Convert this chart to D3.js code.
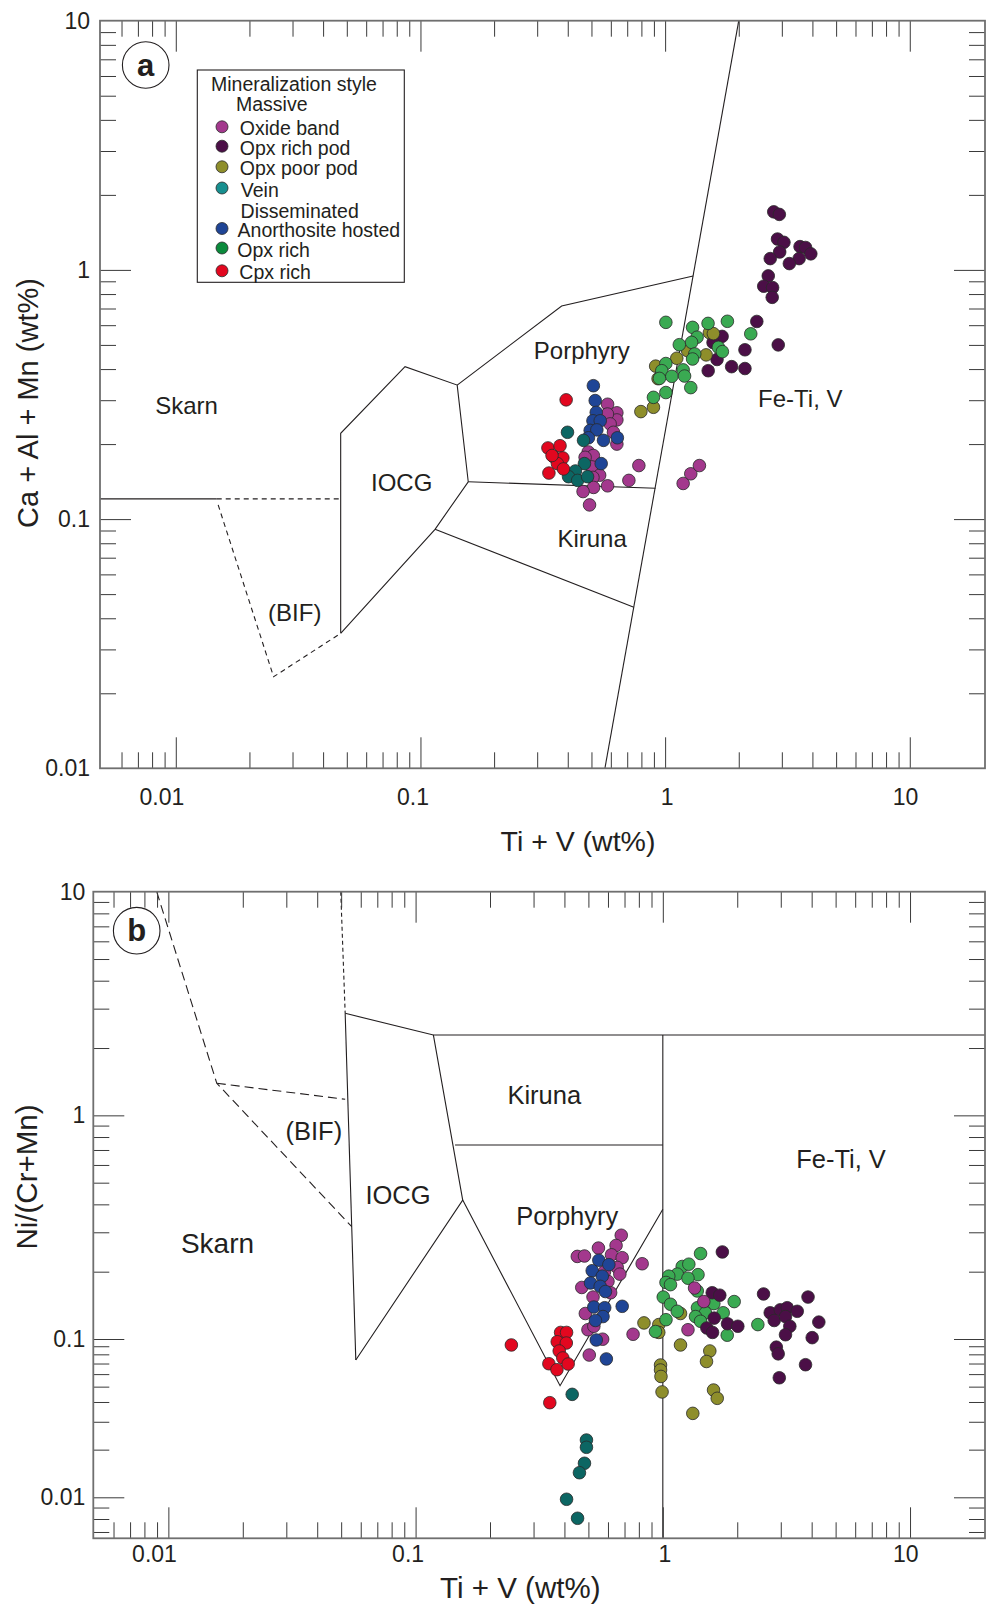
<!DOCTYPE html>
<html>
<head>
<meta charset="utf-8">
<script src="https://cdn.jsdelivr.net/npm/d3@7"></script>
<style>
  body { margin: 0; background: #fff; }
  svg text { font-family: "Liberation Sans", Arial, Helvetica, sans-serif; fill: #231f20; }
</style>
</head>
<body>
<svg id="chart"></svg>
<script>
// ---- categories (legend order) ----
const categories = ["Oxide band", "Opx rich pod", "Opx poor pod", "Vein", "Anorthosite hosted", "Opx rich", "Cpx rich"];

// ---- panel a: Ti + V (wt%) vs Ca + Al + Mn (wt%) ----
const oxideBandA = [[0.582,0.289],[0.635,0.267],[0.635,0.250],[0.581,0.264],[0.596,0.241],[0.615,0.223],[0.635,0.200],[0.485,0.186],[0.509,0.180],[0.502,0.162],[0.540,0.150],[0.507,0.147],[0.510,0.134],[0.462,0.129],[0.582,0.136],[0.711,0.143],[0.781,0.164],[0.491,0.114],[1.185,0.139],[1.273,0.152],[1.381,0.164],[0.471,0.177]];
const opxRichPodA = [[2.78,1.71],[2.93,1.67],[2.88,1.33],[3.06,1.29],[3.56,1.24],[3.75,1.23],[3.94,1.16],[2.94,1.18],[2.69,1.11],[3.53,1.11],[3.22,1.06],[2.64,0.946],[2.53,0.860],[2.75,0.849],[2.74,0.776],[2.37,0.621],[2.90,0.500],[2.12,0.478],[1.71,0.541],[1.63,0.437],[1.50,0.394],[1.87,0.409],[2.12,0.402],[1.57,0.511]];
const opxPoorPodA = [[0.796,0.270],[0.896,0.281],[0.915,0.411],[0.936,0.366],[1.116,0.442],[1.236,0.474],[1.471,0.456],[1.517,0.560],[1.575,0.555]];
const veinA = [[0.399,0.223],[0.464,0.207],[0.468,0.167],[0.430,0.156],[0.403,0.148],[0.439,0.143],[0.482,0.148]];
const anorthositeA = [[0.509,0.343],[0.518,0.299],[0.523,0.268],[0.507,0.248],[0.543,0.248],[0.494,0.227],[0.526,0.228],[0.486,0.212],[0.560,0.207],[0.638,0.212],[0.548,0.167]];
const opxRichA = [[1.007,0.616],[1.295,0.588],[1.498,0.610],[1.797,0.622],[2.239,0.554],[1.351,0.537],[1.283,0.512],[1.143,0.501],[1.651,0.489],[1.714,0.470],[1.322,0.460],[1.295,0.439],[1.007,0.421],[0.969,0.394],[1.185,0.397],[1.065,0.374],[1.201,0.375],[0.948,0.367],[1.007,0.322],[1.273,0.337],[0.896,0.308]];
const cpxRichA = [[0.394,0.301],[0.332,0.193],[0.372,0.197],[0.350,0.178],[0.382,0.176],[0.363,0.167],[0.384,0.159],[0.335,0.153],[0.345,0.180]];

// ---- panel b: Ti + V (wt%) vs Ni/(Cr+Mn) ----
const oxideBandB = [[0.679,0.291],[0.549,0.255],[0.647,0.262],[0.451,0.234],[0.482,0.235],[0.620,0.238],[0.685,0.231],[0.654,0.209],[0.670,0.195],[0.600,0.181],[0.470,0.170],[0.615,0.161],[0.522,0.154],[0.486,0.130],[0.498,0.110],[0.571,0.0997],[0.504,0.0792],[0.825,0.217],[0.758,0.105],[1.344,0.169],[1.465,0.147],[1.264,0.110],[0.581,0.200],[0.526,0.114]];
const opxRichPodB = [[1.741,0.245],[1.584,0.161],[1.70,0.157],[1.614,0.124],[1.507,0.112],[1.589,0.107],[1.827,0.117],[2.011,0.114],[2.555,0.159],[2.719,0.131],[2.985,0.135],[3.185,0.138],[3.497,0.133],[3.867,0.154],[4.276,0.119],[2.822,0.121],[3.135,0.126],[3.264,0.114],[3.135,0.1045],[4.02,0.1014],[2.878,0.0888],[2.929,0.0806],[3.778,0.0688],[2.959,0.0569]];
const opxPoorPodB = [[0.839,0.118],[0.963,0.116],[0.963,0.107],[1.179,0.130],[1.179,0.0917],[1.549,0.084],[1.502,0.0721],[0.979,0.0685],[0.979,0.0637],[0.983,0.058],[0.993,0.0463],[1.604,0.0476],[1.66,0.0422],[1.322,0.0339]];
const veinB = [[0.430,0.0447],[0.491,0.0230],[0.491,0.0207],[0.482,0.0164],[0.460,0.0143],[0.408,0.0098],[0.452,0.00806]];
const anorthositeB = [[0.551,0.225],[0.605,0.215],[0.518,0.202],[0.569,0.191],[0.510,0.178],[0.558,0.172],[0.586,0.163],[0.526,0.139],[0.582,0.138],[0.685,0.140],[0.573,0.126],[0.534,0.121],[0.538,0.0986],[0.591,0.0748]];
const opxRichB = [[1.421,0.241],[1.198,0.211],[1.274,0.216],[1.144,0.195],[1.057,0.191],[1.388,0.194],[1.264,0.187],[1.030,0.179],[1.074,0.175],[1.378,0.164],[1.004,0.154],[1.074,0.143],[1.144,0.133],[1.381,0.138],[1.608,0.144],[1.944,0.147],[1.755,0.131],[1.488,0.131],[1.356,0.126],[1.421,0.120],[1.030,0.122],[1.822,0.104],[2.423,0.116],[0.934,0.108]];
const cpxRichB = [[0.244,0.0917],[0.386,0.107],[0.408,0.107],[0.374,0.0961],[0.407,0.0943],[0.381,0.084],[0.394,0.0759],[0.346,0.0698],[0.373,0.064],[0.414,0.0695],[0.349,0.0396]];

// ---- field boundaries (data units) ----
const fieldsA = [
  [[0.0049,0.1205],[0.0147,0.1205]],
  [[0.0472,0.0348],[0.0472,0.221],[0.0865,0.409],[0.1413,0.345],[0.1568,0.1412],[0.1147,0.0910],[0.0472,0.0348]],
  [[0.1413,0.345],[0.3776,0.716],[1.302,0.945]],
  [[0.1568,0.1412],[0.914,0.133]],
  [[0.1147,0.0910],[0.745,0.0443]],
  [[2.0,10],[0.5675,0.01]]
];
const dashedA = [
  [[0.0147,0.1205],[0.0472,0.1205]],
  [[0.0149,0.114],[0.0251,0.0233],[0.0472,0.0348]]
];
const fieldsB = [
  [[0.0519,2.859],[0.0573,0.0737]],
  [[0.0519,2.859],[0.118,2.288],[20.1,2.288]],
  [[0.118,2.288],[0.1551,0.418],[0.0573,0.0737]],
  [[0.1444,0.737],[1,0.737]],
  [[1,2.288],[1,0.00656]],
  [[0.1551,0.418],[0.384,0.0507],[1,0.380]]
];
const dashedB = [
  [[0.00897,10],[0.0157,1.391],[0.0552,0.3177]],
  [[0.0157,1.391],[0.0519,1.18]]
];
const dottedB = [[[0.0498,10],[0.0519,2.859]]];

// ---- field names, placed at data coordinates ----
const fieldLabelsA = [
  {text:"Skarn", x:0.01107, y:0.2868}, {text:"IOCG", x:0.0838, y:0.1405},
  {text:"(BIF)", x:0.03063, y:0.04227}, {text:"Porphyry", x:0.4567, y:0.4744},
  {text:"Kiruna", x:0.5032, y:0.0833}, {text:"Fe-Ti, V", x:3.568, y:0.3036}
];
const fieldLabelsB = [
  {text:"Skarn", x:0.0158, y:0.2669, big:true}, {text:"(BIF)", x:0.03877, y:0.848},
  {text:"IOCG", x:0.0849, y:0.4419}, {text:"Kiruna", x:0.3314, y:1.238},
  {text:"Porphyry", x:0.4106, y:0.356}, {text:"Fe-Ti, V", x:5.257, y:0.6383}
];

const majorTicks = [0.01, 0.1, 1, 10];
const majorTickLabels = ["0.01", "0.1", "1", "10"];

// ---- styles ----
const pointColor = {
  "Oxide band": "#a3388d", "Opx rich pod": "#4b0f47", "Opx poor pod": "#8e8e2b",
  "Vein": "#0c6663", "Anorthosite hosted": "#1f4596", "Opx rich": "#3aaa52", "Cpx rich": "#e2071f"
};
const legendColor = Object.assign({}, pointColor, { "Vein": "#178f8f", "Opx rich": "#0b8a3c" });
const ink = "#231f20";

const svg = d3.select("#chart").attr("width", 988).attr("height", 1606);

const panels = [
  {
    tag: "a",
    frame: {left: 100, top: 20.7, right: 985, bottom: 768.3},
    x: d3.scaleLog().domain([0.0049, 20.3]).range([100, 985]),
    y: d3.scaleLog().domain([0.01, 10]).range([768.3, 20.7]),
    series: [["Oxide band", oxideBandA], ["Anorthosite hosted", anorthositeA], ["Vein", veinA],
             ["Cpx rich", cpxRichA], ["Opx rich pod", opxRichPodA], ["Opx poor pod", opxPoorPodA], ["Opx rich", opxRichA]],
    fields: fieldsA, dashed: dashedA, dotted: [], labels: fieldLabelsA, labelSize: 24,
    yPad: 10, xPad: 20, xTitle: [578, 850.5], xTitleSize: 28.5,
    yTitle: [28.3, 403], yTitleSize: 29, yText: "Ca + Al + Mn (wt%)",
    badge: [145.7, 65]
  },
  {
    tag: "b",
    frame: {left: 93.3, top: 891.7, right: 985, bottom: 1538.3},
    x: d3.scaleLog().domain([0.00497, 20.1]).range([93.3, 985]),
    // piecewise log, as in the original figure
    y: d3.scaleLog().domain([0.00656, 0.01, 0.1, 10]).range([1538.3, 1497.3, 1339, 891.7]),
    series: [["Opx poor pod", opxPoorPodB], ["Opx rich", opxRichB], ["Opx rich pod", opxRichPodB],
             ["Oxide band", oxideBandB], ["Anorthosite hosted", anorthositeB], ["Cpx rich", cpxRichB], ["Vein", veinB]],
    fields: fieldsB, dashed: dashedB, dotted: dottedB, labels: fieldLabelsB, labelSize: 25.5,
    yPad: 8, xPad: 7, xTitle: [520.3, 1598], xTitleSize: 29.5,
    yTitle: [26, 1177], yTitleSize: 29.5, yText: "Ni/(Cr+Mn)",
    badge: [136.7, 930.7]
  }
];

const isDecade = v => Math.abs(Math.log10(v) - Math.round(Math.log10(v))) < 1e-6;
const fmt = v => majorTickLabels[majorTicks.findIndex(t => Math.abs(t - v) < 1e-9)];

panels.forEach(p => {
  const f = p.frame, x = p.x, y = p.y;
  const g = svg.append("g");
  const inX = v => x(v) > f.left + 3 && x(v) < f.right - 3;
  const inY = v => y(v) > f.top + 3 && y(v) < f.bottom - 3;
  const xMinor = x.ticks().filter(v => !isDecade(v) && inX(v));
  const yMinor = y.ticks().filter(v => !isDecade(v) && inY(v));
  const xMajor = majorTicks.filter(inX);
  const yMajor = majorTicks;

  const line = d3.line().x(d => x(d[0])).y(d => y(d[1]));

  // field boundaries
  g.append("g").selectAll("path").data(p.fields).join("path")
    .attr("d", line).attr("fill", "none").attr("stroke", ink).attr("stroke-width", 1.1);
  g.append("g").selectAll("path").data(p.dashed).join("path")
    .attr("d", line).attr("fill", "none").attr("stroke", ink).attr("stroke-width", 1.1)
    .attr("stroke-dasharray", p.tag === "a" ? "5,4" : "9,5");
  g.append("g").selectAll("path").data(p.dotted).join("path")
    .attr("d", line).attr("fill", "none").attr("stroke", ink).attr("stroke-width", 1.1)
    .attr("stroke-dasharray", "4,3");

  // field names
  g.append("g").selectAll("text").data(p.labels).join("text")
    .attr("x", d => x(d.x)).attr("y", d => y(d.y))
    .attr("text-anchor", "middle").attr("dominant-baseline", "central")
    .style("font-size", d => (d.big ? 28 : p.labelSize) + "px")
    .text(d => d.text);

  // points
  p.series.forEach(([name, data]) => {
    g.append("g").selectAll("circle").data(data).join("circle")
      .attr("cx", d => x(d[0])).attr("cy", d => y(d[1])).attr("r", 6.3)
      .attr("fill", pointColor[name]).attr("stroke", "#2a2a2a").attr("stroke-width", 0.8);
  });

  // axes: minor and major ticks on all four sides
  const ax = (gen, tr) => g.append("g").attr("transform", tr).attr("color", "#3a3a3a").call(gen)
    .call(s => s.select(".domain").remove())
    .call(s => s.selectAll("text").style("font-size", "23px").attr("font-family", null));
  ax(d3.axisBottom(x).tickValues(xMinor).tickSize(-16).tickFormat(""), `translate(0,${f.bottom})`);
  ax(d3.axisTop(x).tickValues(xMinor).tickSize(-16).tickFormat(""), `translate(0,${f.top})`);
  ax(d3.axisLeft(y).tickValues(yMinor).tickSize(-16).tickFormat(""), `translate(${f.left},0)`);
  ax(d3.axisRight(y).tickValues(yMinor).tickSize(-16).tickFormat(""), `translate(${f.right},0)`);
  ax(d3.axisTop(x).tickValues(xMajor).tickSize(-31).tickFormat(""), `translate(0,${f.top})`);
  ax(d3.axisRight(y).tickValues(yMajor.filter(inY)).tickSize(-31).tickFormat(""), `translate(${f.right},0)`);
  ax(d3.axisBottom(x).tickValues(xMajor).tickSize(-31).tickPadding(p.xPad).tickFormat(fmt), `translate(0,${f.bottom})`)
    .selectAll("text").attr("text-anchor", "end").attr("x", 8);
  ax(d3.axisLeft(y).tickValues(yMajor).tickSize(-31).tickPadding(p.yPad).tickFormat(fmt), `translate(${f.left},0)`)
    .selectAll("line").filter(v => !inY(v)).remove();

  // frame
  g.append("rect").attr("x", f.left).attr("y", f.top)
    .attr("width", f.right - f.left).attr("height", f.bottom - f.top)
    .attr("fill", "none").attr("stroke", "#6f6f6f").attr("stroke-width", 1.8);

  // axis titles
  g.append("text").attr("x", p.xTitle[0]).attr("y", p.xTitle[1]).attr("text-anchor", "middle")
    .style("font-size", p.xTitleSize + "px").text("Ti + V (wt%)");
  g.append("text").attr("transform", `translate(${p.yTitle[0]},${p.yTitle[1]}) rotate(-90)`)
    .attr("text-anchor", "middle").attr("dominant-baseline", "central")
    .style("font-size", p.yTitleSize + "px").text(p.yText);

  // panel badge
  g.append("circle").attr("cx", p.badge[0]).attr("cy", p.badge[1]).attr("r", 23.3)
    .attr("fill", "#fff").attr("stroke", ink).attr("stroke-width", 1.1);
  g.append("text").attr("x", p.badge[0]).attr("y", p.badge[1]).attr("text-anchor", "middle")
    .attr("dominant-baseline", "central").style("font-size", "31px").style("font-weight", "bold")
    .text(p.tag);
});

// ---- legend (panel a) ----
const legendRows = [
  {text: "Mineralization style", tx: 13.7, ty: 14.3},
  {text: "Massive", tx: 38.7, ty: 34.3},
  {key: categories[0], tx: 42.5, ty: 58.3},
  {key: categories[1], tx: 42.5, ty: 77.7},
  {key: categories[2], tx: 42.5, ty: 98.3},
  {key: categories[3], tx: 43.5, ty: 119.5},
  {text: "Disseminated", tx: 43.3, ty: 140.5},
  {key: categories[4], tx: 40.3, ty: 160},
  {key: categories[5], tx: 40, ty: 179.5},
  {key: categories[6], tx: 42, ty: 202.3}
];
const lg = svg.append("g").attr("transform", "translate(197.3,70)");
lg.append("rect").attr("width", 207).attr("height", 212.3)
  .attr("fill", "#fff").attr("stroke", ink).attr("stroke-width", 1.1);
lg.selectAll("circle").data(legendRows.filter(r => r.key)).join("circle")
  .attr("cx", 24.7).attr("cy", r => r.ty - 1.5).attr("r", 6)
  .attr("fill", r => legendColor[r.key]).attr("stroke", "#2a2a2a").attr("stroke-width", 0.8);
lg.selectAll("text").data(legendRows).join("text")
  .attr("x", r => r.tx).attr("y", r => r.ty).attr("dominant-baseline", "central")
  .style("font-size", "19.5px").text(r => r.key || r.text);
</script>
</body>
</html>
